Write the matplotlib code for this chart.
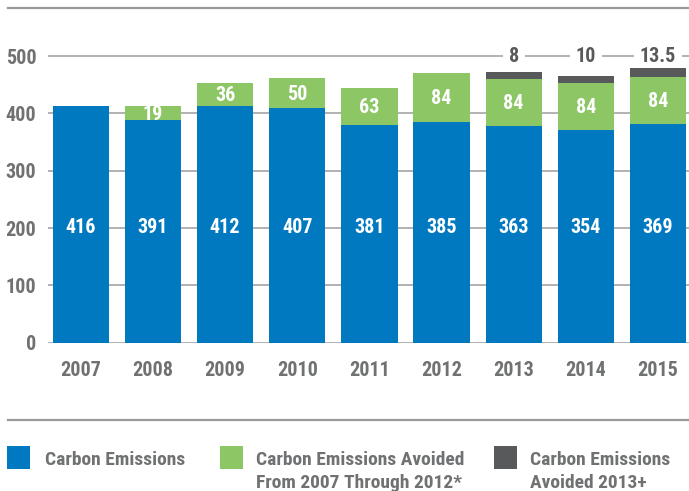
import matplotlib
matplotlib.use('Agg')
import matplotlib.pyplot as plt
from matplotlib import font_manager
from matplotlib.patches import Rectangle
from matplotlib.lines import Line2D

# ---------------- data ----------------
years = ['2007', '2008', '2009', '2010', '2011', '2012', '2013', '2014', '2015']
emissions = [413, 389, 413, 410, 380, 385, 378, 371, 382]
emissions_labels = ['416', '391', '412', '407', '381', '385', '363', '354', '369']
avoided_07_12 = [0, 24, 40, 52, 64, 86, 82, 82, 82]
avoided_07_12_labels = ['', '19', '36', '50', '63', '84', '84', '84', '84']
avoided_13 = [0, 0, 0, 0, 0, 0, 12, 12, 15.5]
avoided_13_labels = ['', '', '', '', '', '', '8', '10', '13.5']
yticks = [0, 100, 200, 300, 400, 500]
legend_labels = ['Carbon Emissions',
                 'Carbon Emissions Avoided\nFrom 2007 Through 2012*',
                 'Carbon Emissions\nAvoided 2013+']

# ---------------- style ----------------
BLUE = '#0079c1'
GREEN = '#8cc665'
DARK = '#58595b'
GRID = '#ababab'
TXT = '#707172'

avail = {f.name for f in font_manager.fontManager.ttflist}
FONT = 'DejaVu Sans'
for cand in ['Roboto Condensed', 'Liberation Sans Narrow', 'Roboto']:
    if cand in avail:
        FONT = cand
        break
plt.rcParams['font.family'] = [FONT, 'DejaVu Sans']
plt.rcParams['font.weight'] = 'bold'

W, H = 689, 491
fig = plt.figure(figsize=(W / 100, H / 100), dpi=100)
fig.patch.set_facecolor('white')


def fx(x):
    return x / W


def fy(y):
    return 1 - y / H


ax_left, ax_bottom_px, ax_top_px = 48.3, 342.7, 21.8
ax = fig.add_axes([fx(ax_left), fy(ax_bottom_px), 1 - fx(ax_left),
                   (ax_bottom_px - ax_top_px) / H])
ax.set_ylim(0, 560)
ax.set_xlim(-0.45, 8.43)

x = list(range(len(years)))
bw = 0.78
ax.bar(x, emissions, width=bw, color=BLUE, zorder=2)
ax.bar(x, avoided_07_12, width=bw, bottom=emissions, color=GREEN, zorder=2)
bottom2 = [a + b for a, b in zip(emissions, avoided_07_12)]
ax.bar(x, avoided_13, width=bw, bottom=bottom2, color=DARK, zorder=2)

ax.set_yticks(yticks)
ax.set_xticks(x)
ax.set_xticklabels(years)
ax.yaxis.grid(True, color=GRID, lw=1.3, zorder=0)
ax.set_axisbelow(True)
for s in ax.spines.values():
    s.set_visible(False)
ax.tick_params(axis='both', length=0, labelsize=14.5, labelcolor=TXT)
ax.tick_params(axis='y', pad=8.5)
ax.tick_params(axis='x', pad=13)

FS = 14.5
for i in x:
    ax.text(i, 201, emissions_labels[i], ha='center', va='center',
            color='white', fontsize=FS, fontweight='bold', zorder=3)
    if avoided_07_12_labels[i]:
        ax.text(i, emissions[i] + avoided_07_12[i] / 2 - 2, avoided_07_12_labels[i],
                ha='center', va='center', color='white', fontsize=FS,
                fontweight='bold', zorder=3)
    if avoided_13_labels[i]:
        ax.text(i, 500, avoided_13_labels[i], ha='center', va='center',
                color=DARK, fontsize=FS, fontweight='bold', zorder=1,
                bbox=dict(boxstyle='square,pad=0.3', fc='white', ec='none'))

# frame lines
fig.add_artist(Line2D([fx(8), 1], [fy(8), fy(8)], color='#9a9a9a', lw=1.6))
fig.add_artist(Line2D([fx(8), 1], [fy(420), fy(420)], color='#9a9a9a', lw=1.6))

# legend
LFS = 14
sq = 22.7
legend_x = [7.3, 220, 494]
legend_text_x = [45, 255.7, 530]
legend_colors = [BLUE, GREEN, DARK]
for lx, tx, c, lab in zip(legend_x, legend_text_x, legend_colors, legend_labels):
    fig.add_artist(Rectangle((fx(lx), fy(446 + sq)), sq / W, sq / H,
                             facecolor=c, edgecolor='none',
                             transform=fig.transFigure))
    for k, line in enumerate(lab.split('\n')):
        fig.text(fx(tx), fy(465 + 23.5 * k), line, ha='left', va='baseline',
                 color=TXT, fontsize=LFS, fontweight='bold')

fig.savefig('out.png', dpi=100, facecolor='white')
